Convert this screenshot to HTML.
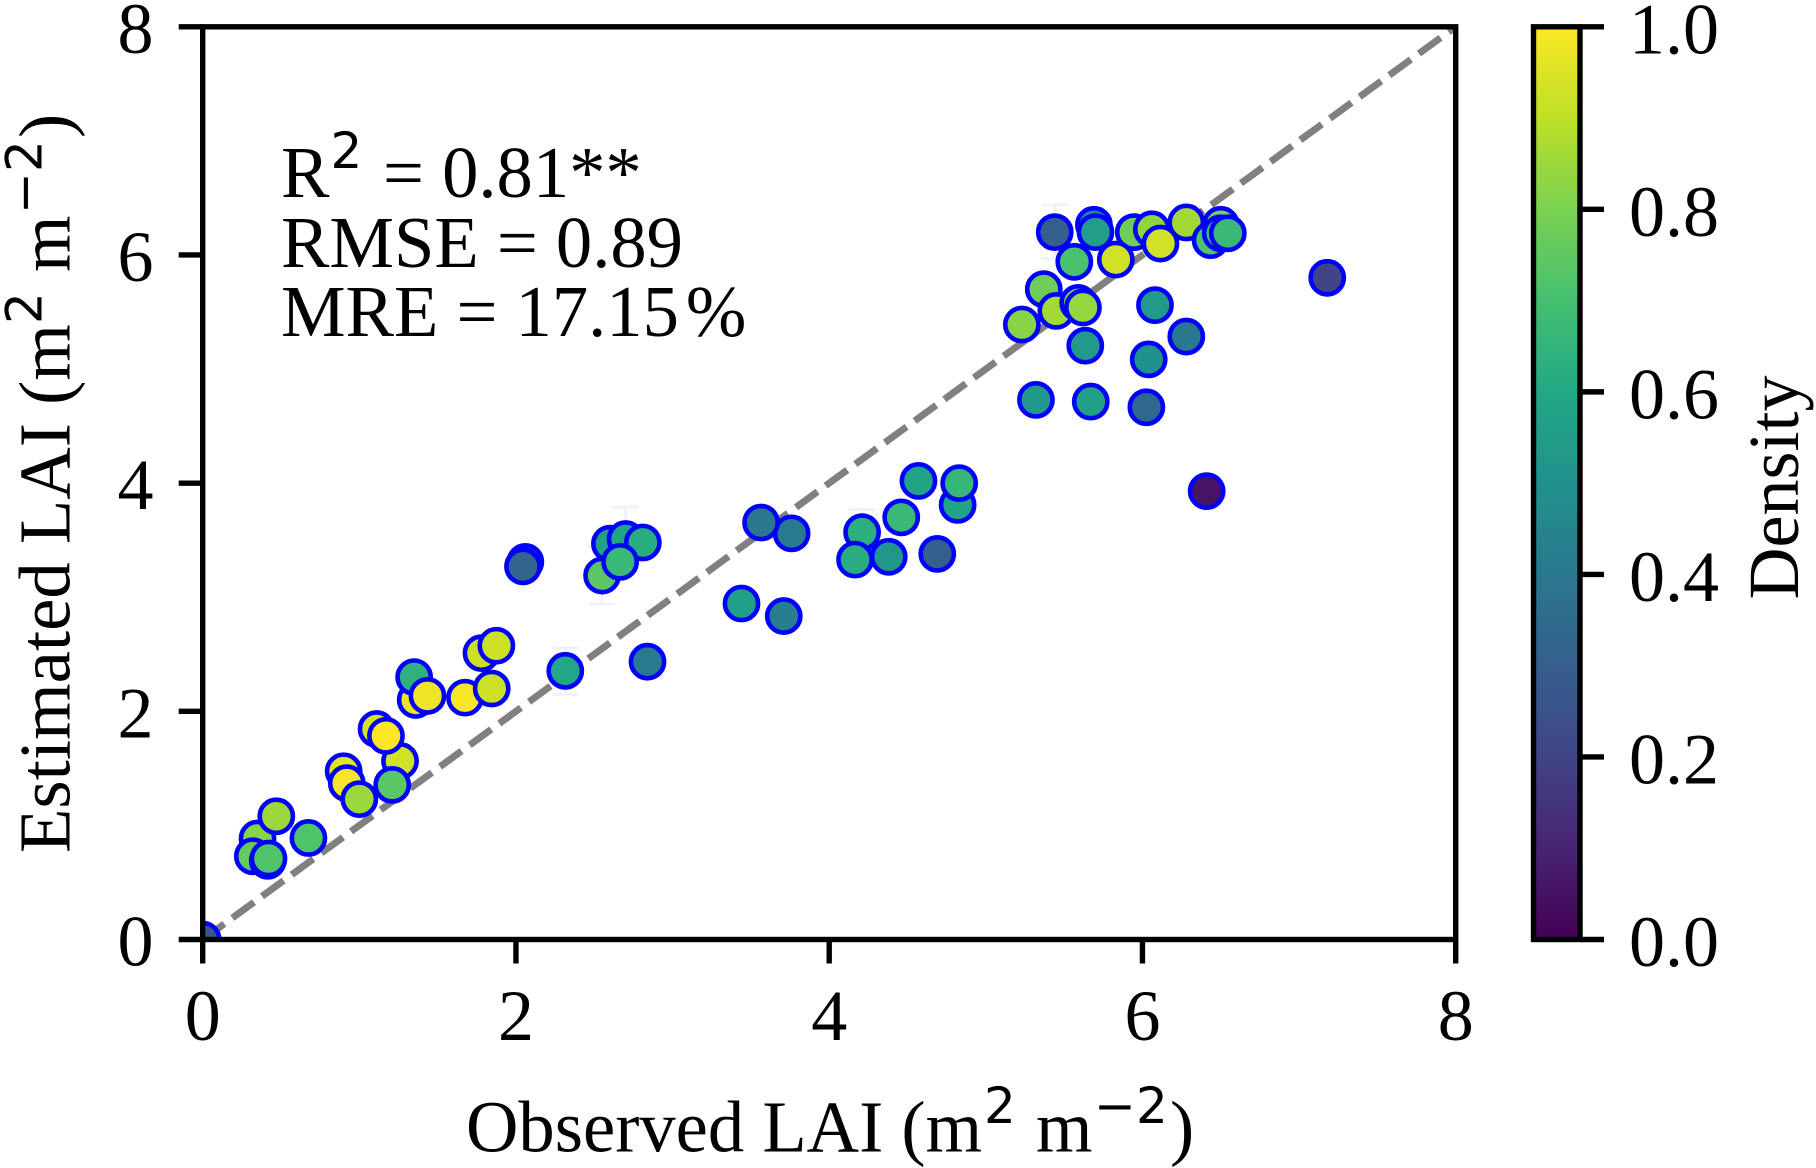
<!DOCTYPE html>
<html lang="en">
<head>
<meta charset="utf-8">
<title>Observed vs Estimated LAI</title>
<style>
html,body{margin:0;padding:0;background:#fff;width:1816px;height:1168px;overflow:hidden}
svg{display:block}
text{font-family:"Liberation Serif",serif;font-size:72px;fill:#000}
.big{font-size:72.6px}
.sup{font-family:"DejaVu Sans",sans-serif;font-size:50px}
</style>
</head>
<body>
<svg id="chart" xmlns="http://www.w3.org/2000/svg" width="1816" height="1168" viewBox="0 0 1816 1168">
  <defs>
    <clipPath id="plot-clip"><rect x="202.7" y="26.8" width="1253" height="912.7"/></clipPath>
    <linearGradient id="viridis-gradient" x1="0" y1="1" x2="0" y2="0"></linearGradient>
  </defs>
  <rect x="0" y="0" width="1816" height="1168" fill="#fff"/>
  <g id="error-bars"></g>
  <g id="reference-line"></g>
  <g id="points" clip-path="url(#plot-clip)"></g>
  <g id="frame"></g>
  <g id="x-ticks"></g>
  <g id="y-ticks"></g>

  <g id="colorbar"></g>

  <g>
    <text class="big" y="197"><tspan x="281">R</tspan><tspan class="sup" x="330.5" y="168">2</tspan><tspan x="383" y="197">= 0.81**</tspan></text>
    <text class="big" x="281" y="267">RMSE = 0.89</text>
    <text class="big" y="336"><tspan x="281">MRE = 17.15</tspan><tspan dx="7">%</tspan></text>
  </g>

  <g>
    <text class="big" x="466" y="1151.7">Observed LAI (m</text>
    <text class="sup" x="984" y="1123">2</text>
    <text class="big" x="1036" y="1151.7">m</text>
    <text class="sup" x="1094" y="1123">&#8722;</text>
    <text class="sup" x="1136" y="1123">2</text>
    <text class="big" x="1170" y="1151.7">)</text>
  </g>

  <g transform="translate(69.3,0) rotate(-90)">
    <text class="big" x="-853" y="0" style="font-size:72.7px">Estimated LAI (m</text>
    <text class="sup" x="-324" y="-28">2</text>
    <text class="big" x="-272" y="0">m</text>
    <text class="sup" x="-214" y="-28">&#8722;</text>
    <text class="sup" x="-172" y="-28">2</text>
    <text class="big" x="-138" y="0">)</text>
  </g>

  <text transform="translate(1798,599.5) rotate(-90)" x="0" y="0">Density</text>
</svg>

<script>
// Observed LAI of each sample, in draw order
const observed = [
  0, 0.35, 0.32, 0.415, 0.42, 0.47, 0.675, 0.90, 0.92, 1.00,
  1.26, 1.11, 1.17, 1.21, 1.36, 1.35, 1.435, 1.675, 1.845, 1.78,
  1.875, 2.315, 2.84, 2.06, 2.045, 2.60, 2.70, 2.81, 2.55, 2.665,
  3.44, 3.71, 3.76, 3.565, 4.21, 4.38, 4.165, 4.46, 4.57, 4.82,
  4.83, 4.69, 5.37, 5.45, 5.23, 5.59, 5.62, 5.635, 5.32, 5.67,
  6.025, 6.04, 6.08, 6.28, 6.41, 7.18, 5.44, 5.945, 5.69, 5.70,
  6.06, 6.28, 6.50, 6.435, 6.50, 6.545, 5.565, 5.83, 6.115
];
// Estimated LAI of each sample
const estimated = [
  0, 0.885, 0.73, 0.69, 0.71, 1.08, 0.89, 1.475, 1.37, 1.23,
  1.565, 1.845, 1.785, 1.355, 2.10, 2.30, 2.135, 2.12, 2.20, 2.51,
  2.575, 2.355, 2.435, 3.31, 3.27, 3.47, 3.51, 3.48, 3.19, 3.31,
  2.945, 2.835, 3.56, 3.655, 3.57, 3.355, 3.33, 3.70, 4.02, 3.81,
  4.00, 3.38, 5.70, 5.51, 5.39, 5.58, 5.54, 5.205, 4.73, 4.715,
  4.665, 5.085, 5.56, 5.285, 3.93, 5.80, 6.20, 6.20, 6.265, 6.20,
  6.225, 6.285, 6.265, 6.13, 6.19, 6.19, 5.94, 5.96, 6.10
];
// Point density (colour value) of each sample
const density = [
  0.27, 0.82, 0.76, 0.70, 0.72, 0.85, 0.72, 0.96, 0.99, 0.85,
  0.93, 0.94, 1.00, 0.74, 0.97, 0.64, 0.98, 0.99, 0.92, 0.92,
  0.92, 0.59, 0.41, 0.30, 0.32, 0.56, 0.58, 0.62, 0.74, 0.67,
  0.56, 0.42, 0.41, 0.40, 0.63, 0.52, 0.62, 0.67, 0.58, 0.58,
  0.66, 0.30, 0.78, 0.86, 0.82, 0.80, 0.84, 0.54, 0.53, 0.56,
  0.33, 0.50, 0.54, 0.40, 0.05, 0.20, 0.30, 0.78, 0.48, 0.55,
  0.83, 0.86, 0.80, 0.72, 0.70, 0.67, 0.71, 0.93, 0.93
];

// Faint error whiskers left in the source figure
const errorObserved = [2.315, 2.70, 2.55, 4.21, 5.44];
const errorLow = [2.15, 3.23, 2.94, 3.37, 5.97];
const errorHigh = [2.555, 3.79, 3.44, 3.77, 6.44];

const xTickValues = [0, 2, 4, 6, 8];
const yTickValues = [0, 2, 4, 6, 8];
const colorbarTickValues = [0, 0.2, 0.4, 0.6, 0.8, 1.0];
const viridisStops = ['#440154','#482475','#414487','#355f8d','#2a788e','#21918c','#22a884','#44bf70','#7ad151','#bddf26','#fde725'];

const SVG_NS = 'http://www.w3.org/2000/svg';
const plot = { left: 202.7, right: 1455.7, top: 26.8, bottom: 939.5 };
const bar = { left: 1533.5, right: 1580, top: 26.8, bottom: 939.5 };
const axisMax = 8;

function xScale(v) { return plot.left + (v / axisMax) * (plot.right - plot.left); }
function yScale(v) { return plot.bottom - (v / axisMax) * (plot.bottom - plot.top); }
function barScale(v) { return bar.bottom - v * (bar.bottom - bar.top); }

function hexToRgb(h) {
  return [parseInt(h.slice(1, 3), 16), parseInt(h.slice(3, 5), 16), parseInt(h.slice(5, 7), 16)];
}
function viridis(t) {
  const c = Math.max(0, Math.min(1, t)) * (viridisStops.length - 1);
  const i = Math.min(Math.floor(c), viridisStops.length - 2);
  const a = hexToRgb(viridisStops[i]);
  const b = hexToRgb(viridisStops[i + 1]);
  const f = c - i;
  return 'rgb(' + a.map((p, k) => Math.round(p + (b[k] - p) * f)).join(',') + ')';
}
function make(tag, attrs, parent) {
  const el = document.createElementNS(SVG_NS, tag);
  Object.keys(attrs).forEach(k => el.setAttribute(k, attrs[k]));
  parent.appendChild(el);
  return el;
}

// Error whiskers
const errGroup = document.getElementById('error-bars');
errorObserved.forEach((v, i) => {
  const x = xScale(v);
  const lo = yScale(errorLow[i]);
  const hi = yScale(errorHigh[i]);
  const whisker = make('path', {
    d: 'M' + (x - 13) + ' ' + lo + 'H' + (x + 13) + 'M' + (x - 13) + ' ' + hi + 'H' + (x + 13) + 'M' + x + ' ' + lo + 'V' + hi,
    fill: 'none', stroke: '#eef2fa', 'stroke-width': 3
  }, errGroup);
  
  
});

// 1:1 reference line
const refLine = make('line', {
  x1: xScale(0), y1: yScale(0), x2: xScale(axisMax), y2: yScale(axisMax),
  stroke: '#808080', 'stroke-width': 7, 'stroke-dasharray': '26.7 10',
  'clip-path': 'url(#plot-clip)'
}, document.getElementById('reference-line'));



// Scatter points
const pointGroup = document.getElementById('points');
observed.forEach((v, i) => {
  const pt = make('circle', {
    cx: xScale(v), cy: yScale(estimated[i]), r: 16.6,
    fill: viridis(density[i]), stroke: '#0000ff', 'stroke-width': 4.6
  }, pointGroup);
  
  
});

// Axes frame
const frame = make('rect', {
  x: plot.left, y: plot.top, width: plot.right - plot.left, height: plot.bottom - plot.top,
  fill: 'none', stroke: '#000', 'stroke-width': 5.4
}, document.getElementById('frame'));



// X ticks
const xTickGroup = document.getElementById('x-ticks');
xTickValues.forEach(v => {
  const mark = make('line', {
    x1: xScale(v), x2: xScale(v), y1: plot.bottom, y2: plot.bottom + 24,
    stroke: '#000', 'stroke-width': 5.4
  }, xTickGroup);
  
  
  const label = make('text', { x: xScale(v), y: 1040, 'text-anchor': 'middle' }, xTickGroup);
  
  
  label.textContent = String(v);
});

// Y ticks
const yTickGroup = document.getElementById('y-ticks');
yTickValues.forEach(v => {
  const mark = make('line', {
    x1: plot.left - 24, x2: plot.left, y1: yScale(v), y2: yScale(v),
    stroke: '#000', 'stroke-width': 5.4
  }, yTickGroup);
  
  
  const label = make('text', { x: 153.5, y: yScale(v) + 26, 'text-anchor': 'end' }, yTickGroup);
  
  
  label.textContent = String(v);
});

// Colorbar
const gradient = document.getElementById('viridis-gradient');
viridisStops.forEach((c, i) => {
  make('stop', { offset: i / (viridisStops.length - 1), 'stop-color': c }, gradient);
});
const barGroup = document.getElementById('colorbar');
const barRect = make('rect', {
  x: bar.left, y: bar.top, width: bar.right - bar.left, height: bar.bottom - bar.top,
  fill: 'url(#viridis-gradient)', stroke: '#000', 'stroke-width': 5.4
}, barGroup);


colorbarTickValues.forEach(v => {
  const mark = make('line', {
    x1: bar.right, x2: bar.right + 24, y1: barScale(v), y2: barScale(v),
    stroke: '#000', 'stroke-width': 5.4
  }, barGroup);
  
  
  const label = make('text', { x: 1629, y: barScale(v) + 26.5 }, barGroup);
  
  
  label.textContent = v.toFixed(1);
});
</script>
</body>
</html>
